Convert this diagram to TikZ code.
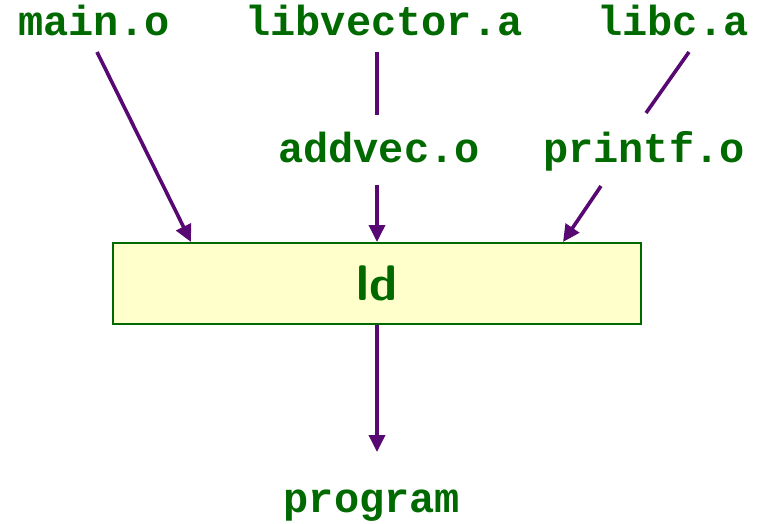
\documentclass[tikz,border=0pt]{standalone}
\usepackage{fontspec}
\setmainfont{Liberation Sans}
\setmonofont{Liberation Mono}
\usetikzlibrary{arrows.meta,calc}
\definecolor{fgreen}{HTML}{006A00}
\definecolor{linkpurple}{HTML}{580872}
\definecolor{boxfill}{HTML}{FFFFCC}
\begin{document}
\begin{tikzpicture}[x=1pt,y=-1pt,
  file/.style={anchor=base,inner sep=0pt,text=fgreen,
    font=\fontsize{42}{48}\selectfont\ttfamily\bfseries},
  toolbox/.style={draw=fgreen,line width=2pt,fill=boxfill,
    minimum width=528pt,minimum height=81pt,inner sep=0pt,
    text=fgreen,font=\fontsize{50}{56}\selectfont\sffamily\bfseries},
  link/.style={draw=linkpurple,line width=3.6pt},
  feed/.style={link,-{Triangle[length=17pt,width=16pt]}}]
\useasboundingbox (0,0) rectangle (765,523);

% input files and archives
\node[file] (main) at (94,35) {main.o};
\node[file] (libvec) at (384,35) {libvector.a};
\node[file] (libc) at (673,35) {libc.a};
\node[file] (addvec) at (379,162) {addvec.o};
\node[file] (printf) at (644,162) {printf.o};

% the linker
\node[toolbox] (ld) at (377,283.5) {ld};

% output
\node[file] (prog) at (372,512) {program};

% connector end points near the labels
\coordinate (mainOut) at (97,52);
\coordinate (libvecOut) at (377,52);
\coordinate (addvecIn) at (377,115);
\coordinate (addvecOut) at (377,185);
\coordinate (libcOut) at (689,52);
\coordinate (printfIn) at (646,113);
\coordinate (printfOut) at (601,186);
\coordinate (progIn) at (377,452);

% archive members pulled out of the libraries
\draw[link] (libvecOut) -- (addvecIn);
\draw[link] (libcOut) -- (printfIn);

% everything fed to ld
\draw[feed] (mainOut) -- ($(ld.north west)+(79,0)$);
\draw[feed] (addvecOut) -- (ld.north);
\draw[feed] (printfOut) -- ($(ld.north east)+(-79,0)$);

% ld writes the executable
\draw[feed] (ld.south) -- (progIn);
\end{tikzpicture}
\end{document}
